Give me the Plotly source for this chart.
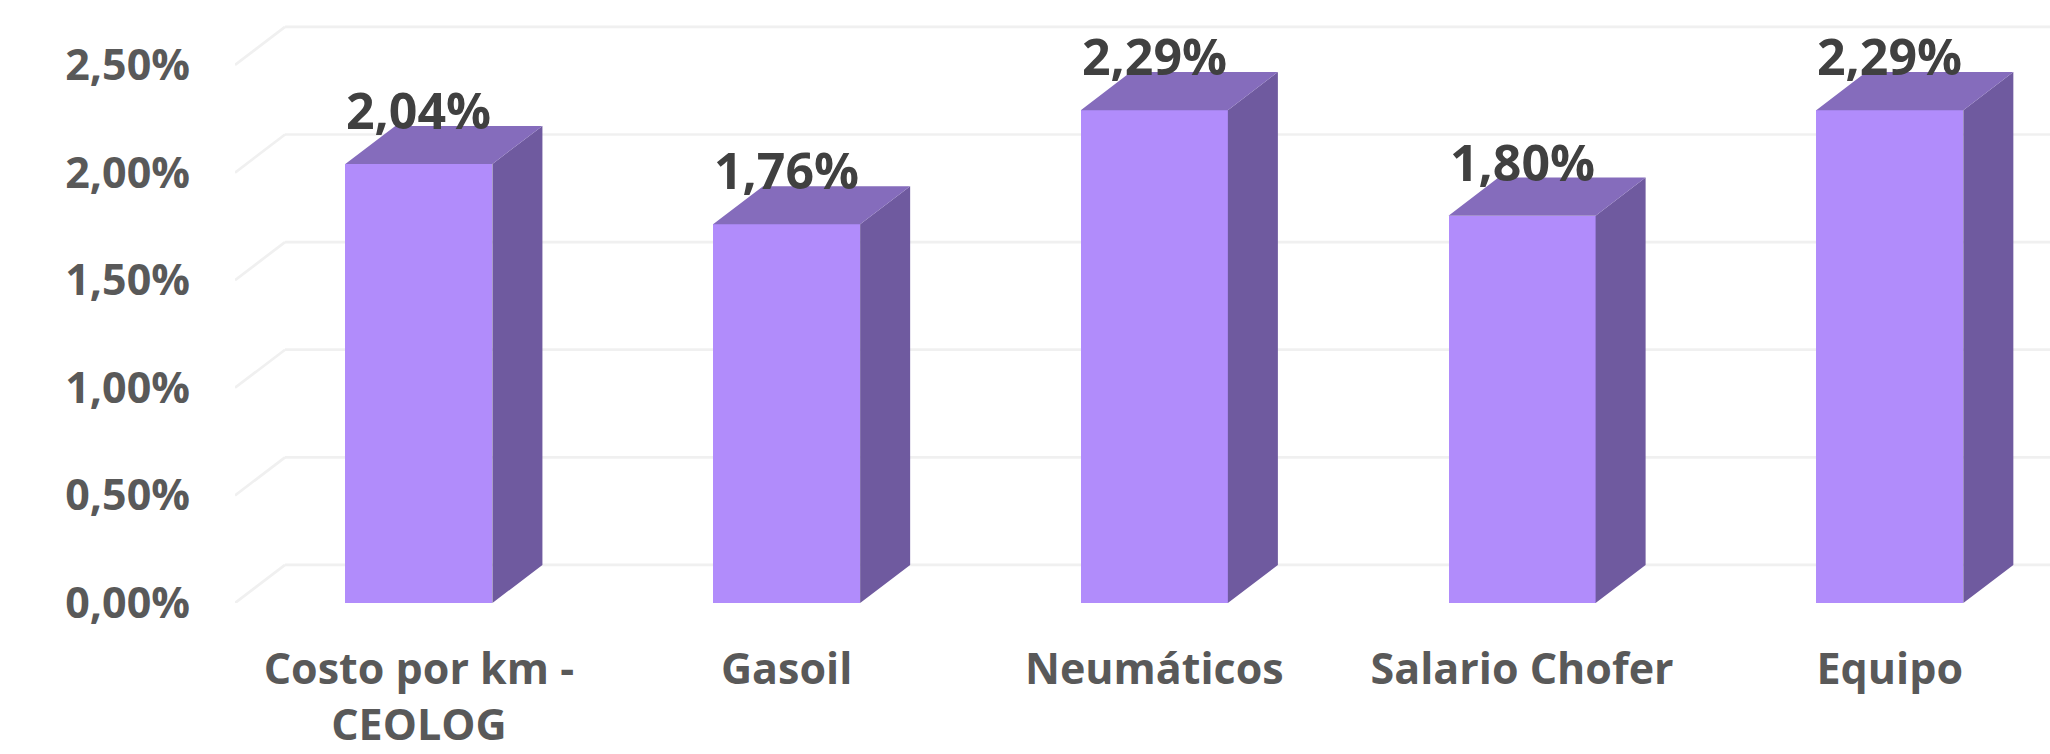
import plotly.graph_objects as go

categories = ["Costo por km -<br>CEOLOG", "Gasoil", "Neumáticos", "Salario Chofer", "Equipo"]
values = [0.0204, 0.0176, 0.0229, 0.0180, 0.0229]
y_ticks = [0.0, 0.005, 0.010, 0.015, 0.020, 0.025]

# style
FRONT = "#B18CFB"
TOP = "#856CBC"
SIDE = "#6F5A9F"
GRID = "#F0F0F0"
BAR_W = 0.40
DX = 0.136      # depth offset in x data units
DY = 0.00177    # depth offset in y data units
X_MIN, X_MAX = -0.5, 4.4357
Y_MAX = 0.02802
FONT = "Open Sans"

xs = list(range(len(values)))

fig = go.Figure()

# front faces
fig.add_trace(go.Bar(
    x=xs, y=values, width=BAR_W, marker=dict(color=FRONT, line=dict(width=0)),
    hoverinfo="skip", showlegend=False,
))

# side faces
sx, sy = [], []
for x, v in zip(xs, values):
    r = x + BAR_W / 2
    sx += [r, r + DX, r + DX, r, r, None]
    sy += [0, DY, v + DY, v, 0, None]
fig.add_trace(go.Scatter(x=sx, y=sy, mode="lines", fill="toself", fillcolor=SIDE,
                         line=dict(width=0, color=SIDE), hoverinfo="skip", showlegend=False))

# top faces
tx, ty = [], []
for x, v in zip(xs, values):
    l, r = x - BAR_W / 2, x + BAR_W / 2
    tx += [l, r, r + DX, l + DX, l, None]
    ty += [v, v, v + DY, v + DY, v, None]
fig.add_trace(go.Scatter(x=tx, y=ty, mode="lines", fill="toself", fillcolor=TOP,
                         line=dict(width=0, color=TOP), hoverinfo="skip", showlegend=False))

# gridlines (back wall + floor edge diagonals)
shapes = []
for t in y_ticks:
    shapes.append(dict(type="line", xref="x", yref="y", layer="below",
                       x0=X_MIN + DX, x1=X_MAX + 1, y0=t + DY, y1=t + DY,
                       line=dict(color=GRID, width=2.7)))
    shapes.append(dict(type="line", xref="x", yref="y", layer="below",
                       x0=X_MIN, x1=X_MIN + DX, y0=t, y1=t + DY,
                       line=dict(color=GRID, width=2.7)))

annotations = []
for x, v in zip(xs, values):
    annotations.append(dict(
        x=x, y=v, xref="x", yref="y", text=f"{v*100:.2f}".replace(".", ",") + "%",
        showarrow=False, yanchor="middle", xanchor="center", yshift=54,
        font=dict(family=FONT, size=50, color="#404040", weight=700),
    ))

fig.update_layout(
    width=2050, height=754,
    margin=dict(l=235, r=0, t=0, b=151, autoexpand=False),
    paper_bgcolor="white", plot_bgcolor="white",
    separators=",.",
    shapes=shapes, annotations=annotations,
    showlegend=False,
    bargap=0,
)
fig.update_xaxes(
    range=[X_MIN, X_MAX], tickmode="array", tickvals=xs, ticktext=categories,
    showgrid=False, zeroline=False, showline=False, ticks="",
    ticklabelstandoff=37, automargin=False,
    tickfont=dict(family=FONT, size=43, color="#595959", weight=700),
)
fig.update_yaxes(
    range=[0, Y_MAX], tickmode="array", tickvals=y_ticks, tickformat=".2%",
    showgrid=False, zeroline=False, showline=False, ticks="",
    ticklabelstandoff=44, automargin=False,
    tickfont=dict(family=FONT, size=43, color="#595959", weight=700),
)

fig.write_html(
    "out.html",
    config={"displayModeBar": False},
    post_script="document.body.style.margin='0';document.body.style.overflow='hidden';",
)
